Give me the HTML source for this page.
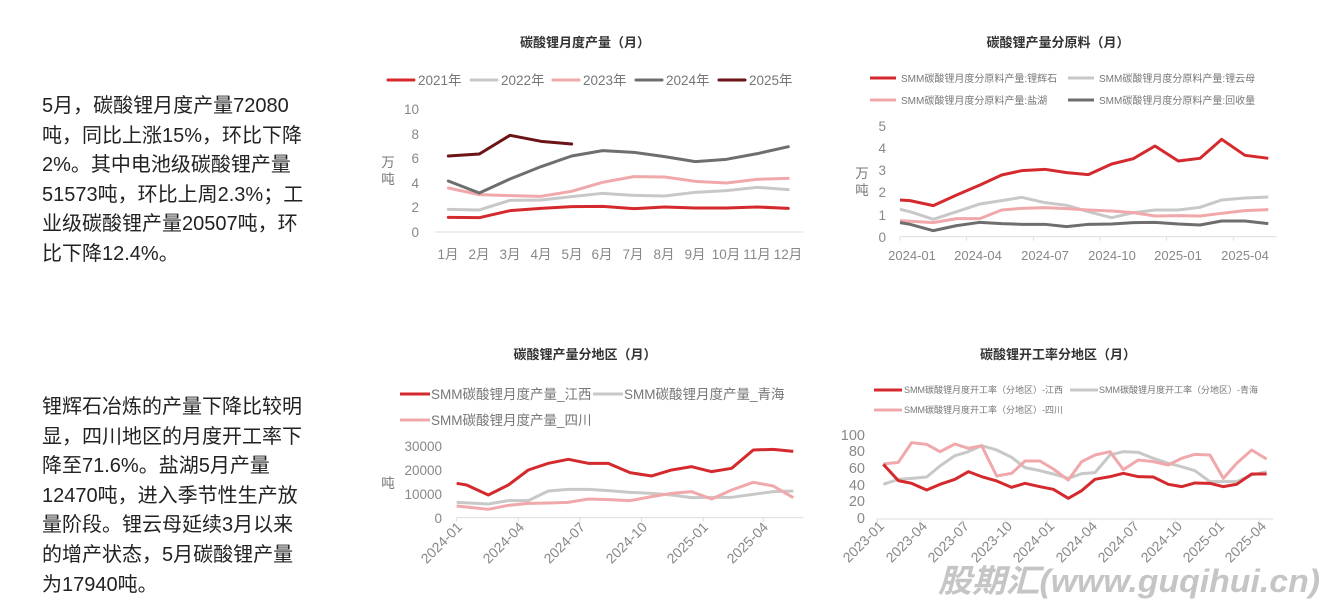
<!DOCTYPE html>
<html><head><meta charset="utf-8"><style>
body{margin:0;width:1339px;height:613px;background:#fff;overflow:hidden;position:relative;font-family:"Liberation Sans","Noto Sans CJK SC",sans-serif}
.p{position:absolute;left:42px;white-space:nowrap;font-size:20px;line-height:29.6px;color:#222}
svg{position:absolute;left:0;top:0}
</style></head><body>
<div class="p" style="top:92px">5月，碳酸锂月度产量72080<br>吨，同比上涨15%，环比下降<br>2%。其中电池级碳酸锂产量<br>51573吨，环比上周2.3%；工<br>业级碳酸锂产量20507吨，环<br>比下降12.4%。</div>
<div class="p" style="top:393px">锂辉石冶炼的产量下降比较明<br>显，四川地区的月度开工率下<br>降至71.6%。盐湖5月产量<br>12470吨，进入季节性生产放<br>量阶段。锂云母延续3月以来<br>的增产状态，5月碳酸锂产量<br>为17940吨。</div>
<svg width="1339" height="613" font-family="Liberation Sans,Noto Sans CJK SC,sans-serif">
<g font-weight="bold" font-size="13" fill="#333" text-anchor="middle">
<text x="585" y="47">碳酸锂月度产量（月）</text>
<text x="1058" y="47">碳酸锂产量分原料（月）</text>
<text x="585" y="359">碳酸锂产量分地区（月）</text>
<text x="1058" y="359">碳酸锂开工率分地区（月）</text>
</g>
<!-- chart1 -->
<g fill="none" stroke-width="3" stroke-linecap="round">
<line x1="388" y1="80" x2="414" y2="80" stroke="#d42a2e"/><line x1="471" y1="80" x2="497" y2="80" stroke="#c8c8c8"/><line x1="553" y1="80" x2="579" y2="80" stroke="#f0a8aa"/><line x1="636" y1="80" x2="662" y2="80" stroke="#6e6e6e"/><line x1="719" y1="80" x2="745" y2="80" stroke="#6b1316"/>
</g>
<g font-size="13.5" fill="#777"><text x="418" y="85">2021年</text><text x="501" y="85">2022年</text><text x="583" y="85">2023年</text><text x="666" y="85">2024年</text><text x="749" y="85">2025年</text></g>
<line x1="435" y1="232" x2="803" y2="232" stroke="#ddd"/>
<g font-size="13.5" fill="#888" text-anchor="end"><text x="419" y="114">10</text><text x="419" y="139">8</text><text x="419" y="163">6</text><text x="419" y="188">4</text><text x="419" y="212">2</text><text x="419" y="237">0</text></g>
<text x="388" y="167" font-size="13.5" fill="#777" text-anchor="middle">万</text><text x="388" y="184" font-size="13.5" fill="#777" text-anchor="middle">吨</text>
<g font-size="13.5" fill="#888" text-anchor="middle"><text x="448" y="259">1月</text><text x="479" y="259">2月</text><text x="510" y="259">3月</text><text x="541" y="259">4月</text><text x="572" y="259">5月</text><text x="602" y="259">6月</text><text x="633" y="259">7月</text><text x="664" y="259">8月</text><text x="695" y="259">9月</text><text x="726" y="259">10月</text><text x="757" y="259">11月</text><text x="788" y="259">12月</text></g>
<g transform="translate(370,60) scale(0.3333)" fill="none" stroke-width="9" stroke-linejoin="round" stroke-linecap="round">
<polyline stroke="#c8c8c8" points="235,448 328,450 420,421 513,420 605,410 698,400 791,406 884,408 976,397 1069,392 1162,382 1255,389"/>
<polyline stroke="#d42a2e" points="235,472 328,473 420,452 513,445 605,440 698,439 791,446 884,441 976,444 1069,444 1162,441 1255,445"/>
<polyline stroke="#f0a8aa" points="235,384 328,404 420,407 513,409 605,394 698,367 791,350 884,351 976,364 1069,369 1162,358 1255,355"/>
<polyline stroke="#6e6e6e" points="235,363 328,399 420,357 513,320 605,288 698,272 791,277 884,290 976,305 1069,298 1162,281 1255,260"/>
<polyline stroke="#6b1316" points="235,288 328,282 420,226 513,244 605,252"/>
</g>
<!-- chart2 -->
<g fill="none" stroke-width="3"><line x1="870" y1="78" x2="896" y2="78" stroke="#d42a2e"/><line x1="1068" y1="78" x2="1094" y2="78" stroke="#c8c8c8"/><line x1="870" y1="100" x2="896" y2="100" stroke="#f0a8aa"/><line x1="1068" y1="100" x2="1094" y2="100" stroke="#6e6e6e"/></g>
<g font-size="10" fill="#777"><text x="901" y="82">SMM碳酸锂月度分原料产量:锂辉石</text><text x="1099" y="82">SMM碳酸锂月度分原料产量:锂云母</text><text x="901" y="104">SMM碳酸锂月度分原料产量:盐湖</text><text x="1099" y="104">SMM碳酸锂月度分原料产量:回收量</text></g>
<g font-size="13.5" fill="#888" text-anchor="end"><text x="886" y="131">5</text><text x="886" y="153">4</text><text x="886" y="175">3</text><text x="886" y="197">2</text><text x="886" y="220">1</text><text x="886" y="242">0</text></g>
<text x="862" y="178" font-size="13.5" fill="#777" text-anchor="middle">万</text><text x="862" y="195" font-size="13.5" fill="#777" text-anchor="middle">吨</text>
<g font-size="13" fill="#888" text-anchor="middle"><text x="912" y="260">2024-01</text><text x="978" y="260">2024-04</text><text x="1045" y="260">2024-07</text><text x="1112" y="260">2024-10</text><text x="1178" y="260">2025-01</text><text x="1245" y="260">2025-04</text></g>
<g transform="translate(850,60) scale(0.3333)" fill="none" stroke-width="9" stroke-linejoin="round">
<path d="M150,530H1280M150,530v12M350,530v12M550,530v12M750,530v12M950,530v12M1150,530v12" stroke="#ddd" stroke-width="3"/>
<polyline stroke="#c8c8c8" points="150,448 180,455 250,478 320,455 390,432 455,422 515,412 585,428 650,436 715,455 785,473 850,458 915,450 985,450 1050,442 1115,420 1185,414 1255,411"/>
<polyline stroke="#f0a8aa" points="150,482 250,488 320,476 390,476 455,450 515,445 585,443 650,446 715,450 785,453 850,458 915,468 985,467 1050,468 1115,460 1185,452 1255,449"/>
<polyline stroke="#6e6e6e" points="150,488 180,493 250,512 320,497 390,487 455,491 515,493 585,493 650,500 715,493 785,492 850,488 915,487 985,492 1050,495 1115,483 1185,483 1255,491"/>
<polyline stroke="#d42a2e" points="150,420 180,422 250,437 320,405 390,375 455,345 515,332 585,328 650,338 715,344 785,312 850,296 915,258 985,303 1050,295 1115,238 1185,286 1255,295"/>
</g>
<!-- chart3 -->
<g fill="none" stroke-width="3"><line x1="400" y1="394" x2="430" y2="394" stroke="#d42a2e"/><line x1="593" y1="394" x2="623" y2="394" stroke="#c8c8c8"/><line x1="400" y1="420" x2="430" y2="420" stroke="#f0a8aa"/></g>
<g font-size="13.5" fill="#777"><text x="431" y="399">SMM碳酸锂月度产量_江西</text><text x="624" y="399">SMM碳酸锂月度产量_青海</text><text x="431" y="425">SMM碳酸锂月度产量_四川</text></g>
<g font-size="13.5" fill="#888" text-anchor="end"><text x="442" y="451">30000</text><text x="442" y="475">20000</text><text x="442" y="499">10000</text><text x="442" y="523">0</text></g>
<text x="388" y="488" font-size="13.5" fill="#777" text-anchor="middle">吨</text>
<g font-size="14" fill="#888" text-anchor="end"><text transform="translate(463,528) rotate(-45)">2024-01</text><text transform="translate(525,528) rotate(-45)">2024-04</text><text transform="translate(586,528) rotate(-45)">2024-07</text><text transform="translate(648,528) rotate(-45)">2024-10</text><text transform="translate(709,528) rotate(-45)">2025-01</text><text transform="translate(769,528) rotate(-45)">2025-04</text></g>
<g transform="translate(370,380) scale(0.3333)" fill="none" stroke-width="9" stroke-linejoin="round">
<path d="M260,413H1300M260,413v12M445,413v12M630,413v12M815,413v12M1000,413v12M1180,413v12" stroke="#ddd" stroke-width="3"/>
<polyline stroke="#c8c8c8" points="260,367 355,372 415,362 475,362 535,333 595,328 655,328 715,332 780,337 845,340 905,345 965,353 1025,352 1085,352 1150,343 1210,335 1270,333"/>
<polyline stroke="#f0a8aa" points="260,378 355,388 415,376 475,370 535,369 595,367 655,357 715,359 780,362 845,350 905,340 965,335 1025,357 1085,330 1150,307 1210,318 1270,353"/>
<polyline stroke="#d42a2e" points="260,310 290,315 355,345 415,315 475,270 535,250 595,238 655,250 715,250 780,278 845,288 905,270 965,260 1025,275 1085,265 1150,210 1210,208 1270,214"/>
</g>
<!-- chart4 -->
<g fill="none" stroke-width="3"><line x1="874" y1="390" x2="902" y2="390" stroke="#d42a2e"/><line x1="1070" y1="390" x2="1098" y2="390" stroke="#c8c8c8"/><line x1="874" y1="410" x2="902" y2="410" stroke="#f0a8aa"/></g>
<g font-size="9" fill="#777"><text x="904" y="393">SMM碳酸锂月度开工率（分地区）-江西</text><text x="1099" y="393">SMM碳酸锂月度开工率（分地区）-青海</text><text x="904" y="413">SMM碳酸锂月度开工率（分地区）-四川</text></g>
<g font-size="14.5" fill="#888" text-anchor="end"><text x="865" y="440">100</text><text x="865" y="456">80</text><text x="865" y="473">60</text><text x="865" y="490">40</text><text x="865" y="506">20</text><text x="865" y="523">0</text></g>
<g font-size="14" fill="#888" text-anchor="end"><text transform="translate(885,527) rotate(-45)">2023-01</text><text transform="translate(928,527) rotate(-45)">2023-04</text><text transform="translate(970,527) rotate(-45)">2023-07</text><text transform="translate(1013,527) rotate(-45)">2023-10</text><text transform="translate(1055,527) rotate(-45)">2024-01</text><text transform="translate(1098,527) rotate(-45)">2024-04</text><text transform="translate(1140,527) rotate(-45)">2024-07</text><text transform="translate(1183,527) rotate(-45)">2024-10</text><text transform="translate(1225,527) rotate(-45)">2025-01</text><text transform="translate(1267,527) rotate(-45)">2025-04</text></g>
<g transform="translate(840,375) scale(0.3333)" fill="none" stroke-width="9" stroke-linejoin="round">
<path d="M110,432H1300M112,432v12M240,432v12M367,432v12M495,432v12M622,432v12M750,432v12M877,432v12M1005,432v12M1130,432v12M1258,432v12" stroke="#ddd" stroke-width="3"/>
<polyline stroke="#c8c8c8" points="130,328 175,313 215,310 260,306 300,273 345,242 385,230 425,212 470,225 515,247 555,278 600,287 640,297 685,310 725,296 765,293 810,240 850,230 895,232 940,250 985,265 1025,275 1065,287 1110,320 1150,320 1190,320 1235,300 1280,290"/>
<polyline stroke="#f0a8aa" points="130,267 175,262 215,203 260,208 300,230 345,207 385,220 425,212 470,303 515,295 555,258 600,258 640,282 685,315 725,260 765,240 810,230 850,284 895,255 940,260 985,270 1025,250 1065,238 1110,240 1150,310 1190,265 1235,225 1280,252"/>
<polyline stroke="#d42a2e" points="130,268 175,317 215,325 260,345 300,328 345,313 385,290 425,305 470,318 515,337 555,325 600,335 640,343 685,370 725,347 765,313 810,305 850,295 895,305 940,306 985,328 1025,335 1065,324 1110,325 1150,335 1190,328 1235,297 1280,297"/>
</g>
<text x="938" y="592" font-size="32" font-weight="bold" font-style="italic" fill="#bbb" fill-opacity="0.85" textLength="382" lengthAdjust="spacingAndGlyphs">股期汇(www.guqihui.cn)</text>
</svg>
</body></html>
